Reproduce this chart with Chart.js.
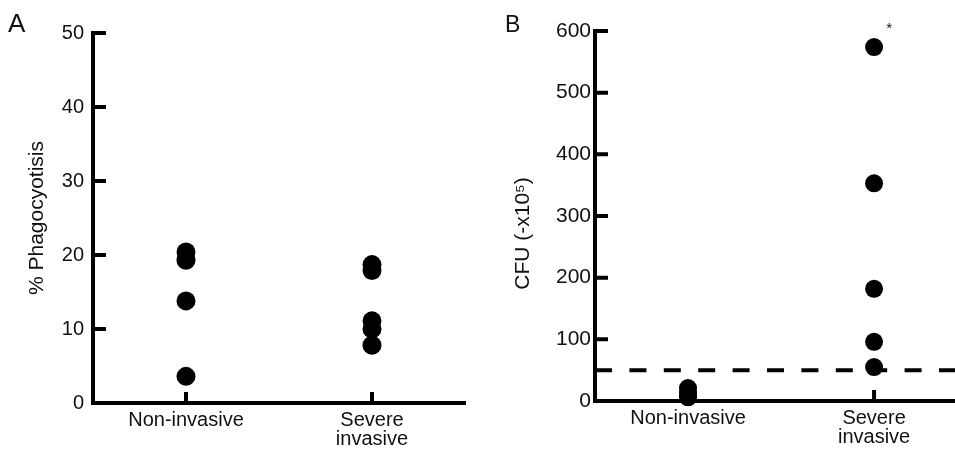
<!DOCTYPE html>
<html>
<head>
<meta charset="utf-8">
<title>Phagocytosis and CFU</title>
<script src="https://cdn.jsdelivr.net/npm/chart.js@4.4.0/dist/chart.umd.min.js"></script>
<style>
  body { margin: 0; background: #fff; }
  #wrap { position: relative; width: 955px; height: 452px; overflow: hidden; font-family: "Liberation Sans", Arial, sans-serif; color: #111; }
  .panel { position: absolute; top: 0; height: 452px; }
  #panelA { left: 0; width: 480px; }
  #panelB { left: 480px; width: 475px; }
  .letter { position: absolute; }
  #letterA { left: 8px; top: 10px; font-size: 26px; line-height: 26px; }
  #letterB { left: 505px; top: 13px; font-size: 23px; line-height: 23px; }
</style>
</head>
<body>
<div id="wrap">
  <div class="panel" id="panelA"><canvas id="chartA" width="480" height="452"></canvas></div>
  <div class="panel" id="panelB"><canvas id="chartB" width="475" height="452"></canvas></div>
  <div class="letter" id="letterA">A</div>
  <div class="letter" id="letterB">B</div>
</div>
<script>
// groups on the x axis and where they sit on the linear scale
const groups = ["Non-invasive", ["Severe", "invasive"]];
const groupPos = [1, 3];

// panel A: % phagocytosis
const phagoNonInvasive = [20.4, 19.3, 13.8, 3.6];
const phagoSevere = [18.7, 17.9, 11.1, 10.0, 7.8];
const phagoTicks = [0, 10, 20, 30, 40, 50];

// panel B: CFU (x10^5)
const cfuNonInvasive = [21, 15, 10, 6];
const cfuSevere = [574, 353, 182, 96, 55];
const cfuThreshold = 50;
const cfuTicks = [0, 100, 200, 300, 400, 500, 600];

const ink = "#111";
Chart.defaults.font.family = "'Liberation Sans', Arial, sans-serif";
Chart.defaults.color = ink;

// tick marks pointing into the plot, like the original figure
const innerTicks = {
  id: "innerTicks",
  afterDraw(chart, args, opts) {
    const { ctx, chartArea } = chart;
    const xs = chart.scales.x;
    const ys = chart.scales.y;
    ctx.save();
    ctx.strokeStyle = "#000";
    ctx.lineWidth = opts.width;
    ctx.beginPath();
    ys.ticks.forEach(t => {
      const py = ys.getPixelForValue(t.value);
      ctx.moveTo(chartArea.left, py);
      ctx.lineTo(chartArea.left + opts.yLen, py);
    });
    xs.ticks.forEach(t => {
      const px = xs.getPixelForValue(t.value);
      ctx.moveTo(px, chartArea.bottom);
      ctx.lineTo(px, chartArea.bottom - opts.xLen);
    });
    ctx.stroke();
    ctx.restore();
  }
};

// little asterisk next to one point
const starMark = {
  id: "starMark",
  afterDatasetsDraw(chart, args, opts) {
    if (!opts.text) return;
    const pt = chart.getDatasetMeta(opts.dataset).data[opts.index];
    const ctx = chart.ctx;
    ctx.save();
    ctx.fillStyle = ink;
    ctx.font = "15px 'Liberation Sans', Arial, sans-serif";
    ctx.textAlign = "center";
    ctx.textBaseline = "middle";
    ctx.fillText(opts.text, pt.x + opts.dx, pt.y + opts.dy);
    ctx.restore();
  }
};

const toPoints = (vals, pos) => vals.map(v => ({ x: pos, y: v }));

const dots = (vals, pos, r) => ({
  type: "scatter",
  data: toPoints(vals, pos),
  pointRadius: r,
  pointHoverRadius: r,
  pointBackgroundColor: "#000",
  pointBorderWidth: 0,
  clip: false
});

function makePanel(id, p) {
  return new Chart(document.getElementById(id), {
    type: "scatter",
    data: { datasets: p.datasets },
    options: {
      responsive: false,
      animation: false,
      layout: { autoPadding: false, padding: { left: 0, top: p.top, right: p.right, bottom: 0 } },
      plugins: {
        legend: { display: false },
        tooltip: { enabled: false },
        innerTicks: { width: 4, yLen: 13, xLen: 11 },
        starMark: p.star || {}
      },
      scales: {
        x: {
          type: "linear",
          min: 0,
          max: p.xMax,
          afterBuildTicks: s => { s.ticks = groupPos.map(v => ({ value: v })); },
          afterFit: s => { s.height = p.xHeight; },
          grid: { display: false, drawTicks: false },
          border: { display: true, color: "#000", width: 4 },
          ticks: {
            autoSkip: false,
            maxRotation: 0,
            padding: 8,
            font: { size: 20, lineHeight: 0.95 },
            callback: (v, i) => groups[i]
          }
        },
        y: {
          min: 0,
          max: p.yTicks[p.yTicks.length - 1],
          afterBuildTicks: s => { s.ticks = p.yTicks.map(v => ({ value: v })); },
          afterFit: s => { s.width = p.yWidth; },
          grid: { display: false, drawTicks: false },
          border: { display: true, color: "#000", width: 4 },
          ticks: { padding: p.tickPad, font: { size: p.tickSize } },
          title: {
            display: true,
            text: p.title,
            font: { size: 21 },
            padding: { top: p.titlePad, bottom: 0 }
          }
        }
      }
    },
    plugins: [innerTicks, starMark]
  });
}

makePanel("chartA", {
  datasets: [
    dots(phagoNonInvasive, groupPos[0], 9.5),
    dots(phagoSevere, groupPos[1], 9.5)
  ],
  xMax: 4,
  top: 33,
  right: 15,
  xHeight: 49,
  yWidth: 93,
  yTicks: phagoTicks,
  tickPad: 9,
  tickSize: 20,
  title: "% Phagocyotisis",
  titlePad: 25
});

makePanel("chartB", {
  datasets: [
    dots(cfuNonInvasive, groupPos[0], 9),
    dots(cfuSevere, groupPos[1], 9),
    {
      type: "line",
      data: [{ x: 0, y: cfuThreshold }, { x: 3.87, y: cfuThreshold }],
      borderColor: "#000",
      borderWidth: 4,
      borderDash: [17, 17.4],
      pointRadius: 0,
      showLine: true,
      fill: false
    }
  ],
  xMax: 3.87,
  top: 31,
  right: 0,
  xHeight: 51,
  yWidth: 115,
  yTicks: cfuTicks,
  tickPad: 4,
  tickSize: 21,
  title: "CFU (-x10\u2075)      ",
  titlePad: 31,
  star: { text: "*", dataset: 1, index: 0, dx: 15, dy: -18 }
});
</script>
</body>
</html>
